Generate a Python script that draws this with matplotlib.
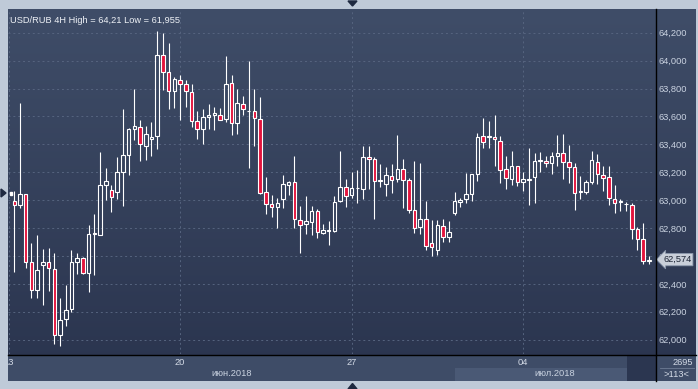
import numpy as np
import matplotlib.pyplot as plt
from matplotlib.patches import Rectangle, Polygon
from matplotlib.lines import Line2D
from matplotlib.colors import LinearSegmentedColormap

# USD/RUB 4H свечи (чтение с картинки)
opens = [62.996, 62.968, 63.042, 62.559, 62.354, 62.538, 62.559, 62.509, 62.036, 62.151,
         62.222, 62.559, 62.588, 62.480, 62.767, 62.753, 63.111, 63.075, 63.061, 63.204,
         63.326, 63.513, 63.525, 63.391, 63.441, 63.462, 64.043, 63.921, 63.785, 63.864,
         63.835, 63.778, 63.570, 63.513, 63.599, 63.613, 63.613, 63.582, 63.840, 63.551,
         63.692, 63.637, 63.637, 63.582, 63.059, 62.973, 62.951, 63.009, 63.109, 63.130,
         62.858, 62.829, 62.844, 62.923, 62.765, 62.779, 62.779, 62.994, 63.095, 63.035,
         63.085, 63.080, 63.310, 63.295, 63.138, 63.116, 63.173, 63.152, 63.224, 63.145,
         62.930, 62.808, 62.865, 62.693, 62.643, 62.815, 62.734, 62.906, 62.989, 63.006,
         63.044, 63.188, 63.460, 63.456, 63.453, 63.424, 63.224, 63.150, 63.245, 63.130,
         63.147, 63.164, 63.281, 63.281, 63.264, 63.317, 63.338, 63.274, 63.238, 63.059,
         63.059, 63.130, 63.274, 63.181, 63.166, 63.009, 62.987, 62.970, 62.966, 62.794,
         62.722, 62.566]
closes = [62.968, 63.047, 62.559, 62.354, 62.502, 62.559, 62.516, 62.036, 62.143, 62.215,
          62.559, 62.588, 62.480, 62.760, 62.755, 63.111, 63.140, 63.025, 63.204, 63.326,
          63.513, 63.534, 63.405, 63.474, 63.455, 64.043, 63.921, 63.785, 63.871, 63.835,
          63.785, 63.570, 63.513, 63.599, 63.613, 63.627, 63.577, 63.835, 63.553, 63.697,
          63.654, 63.640, 63.589, 63.052, 62.973, 62.951, 62.980, 63.116, 63.130, 62.865,
          62.822, 62.851, 62.923, 62.772, 62.786, 62.784, 62.987, 63.095, 63.030, 63.087,
          63.090, 63.310, 63.295, 63.138, 63.140, 63.181, 63.145, 63.224, 63.145, 62.930,
          62.801, 62.865, 62.669, 62.662, 62.822, 62.736, 62.772, 62.997, 63.004, 63.044,
          63.188, 63.453, 63.415, 63.460, 63.436, 63.214, 63.157, 63.245, 63.130, 63.150,
          63.149, 63.281, 63.283, 63.267, 63.317, 63.338, 63.274, 63.238, 63.052, 63.061,
          63.130, 63.288, 63.188, 63.159, 63.016, 62.980, 62.989, 62.972, 62.794, 62.722,
          62.564, 62.574]
highs = [63.063, 63.694, 63.045, 62.691, 62.748, 62.648, 62.655, 62.619, 62.296, 62.390,
         62.645, 62.621, 62.592, 62.820, 62.898, 63.343, 63.228, 63.109, 63.307, 63.651,
         63.515, 63.795, 63.572, 63.529, 63.558, 64.210, 64.196, 64.124, 63.883, 63.895,
         63.864, 63.830, 63.639, 63.656, 63.687, 63.666, 63.663, 64.031, 63.900, 63.800,
         63.749, 63.997, 63.800, 63.742, 63.169, 63.037, 63.018, 63.183, 63.140, 63.319,
         62.958, 63.030, 62.958, 62.939, 62.829, 62.851, 63.030, 63.355, 63.150, 63.205,
         63.219, 63.391, 63.391, 63.310, 63.260, 63.240, 63.262, 63.470, 63.293, 63.162,
         63.283, 63.269, 62.997, 62.860, 62.860, 62.863, 62.853, 63.061, 63.018, 63.197,
         63.190, 63.484, 63.589, 63.568, 63.611, 63.463, 63.319, 63.353, 63.248, 63.200,
         63.374, 63.338, 63.348, 63.319, 63.348, 63.470, 63.475, 63.398, 63.267, 63.173,
         63.145, 63.353, 63.331, 63.245, 63.245, 63.109, 63.006, 62.987, 62.980, 62.808,
         62.839, 62.600]
lows = [62.485, 62.944, 62.511, 62.299, 62.299, 62.246, 62.349, 61.971, 61.955, 62.098,
        62.198, 62.468, 62.468, 62.342, 62.461, 62.748, 62.999, 62.915, 63.006, 62.958,
        63.183, 63.429, 63.281, 63.286, 63.317, 63.367, 63.787, 63.654, 63.661, 63.575,
        63.668, 63.525, 63.438, 63.403, 63.513, 63.503, 63.572, 63.563, 63.465, 63.472,
        63.611, 63.228, 63.386, 63.044, 62.899, 62.877, 62.798, 62.942, 63.035, 62.798,
        62.619, 62.755, 62.748, 62.729, 62.758, 62.679, 62.774, 62.985, 62.949, 63.016,
        62.978, 63.009, 63.078, 62.863, 63.092, 63.030, 63.049, 63.128, 62.942, 62.906,
        62.765, 62.758, 62.643, 62.598, 62.610, 62.698, 62.698, 62.894, 62.949, 62.980,
        62.992, 63.140, 63.372, 63.372, 63.243, 63.121, 63.078, 63.111, 63.104, 63.064,
        62.963, 62.978, 63.205, 63.236, 63.185, 63.243, 63.150, 63.121, 62.927, 63.006,
        63.042, 63.114, 63.116, 63.064, 62.966, 62.906, 62.923, 62.923, 62.719, 62.641,
        62.540, 62.543]

date_ticks = [-1, 29, 59, 89]          # индексы свечей на 00:00
date_labels = ['13', '20', '27', '04']
month_starts = [-1.1, 77]
month_labels = ['июн.2018', 'июл.2018']
y_ticks = [62.0, 62.2, 62.4, 62.6, 62.8, 63.0, 63.2, 63.4, 63.6, 63.8, 64.0, 64.2]
last_price = 62.574
title = 'USD/RUB 4H High = 64,21 Low = 61,955'

W, H = 698, 389
plt.rcParams['font.family'] = ['Liberation Sans', 'DejaVu Sans']
fig = plt.figure(figsize=(W / 100, H / 100), dpi=100, facecolor='#bfcad8')


def fx(px):
    return px / W


def fy(py):
    return 1 - py / H


# фон панели с градиентом
bg = fig.add_axes([fx(8), fy(381), fx(696 - 8), (381 - 9) / H])
bg.axis('off')
cmap = LinearSegmentedColormap.from_list('bg', ['#3f4d68', '#2a344e'])
bg.imshow(np.linspace(0, 1, 256).reshape(-1, 1), aspect='auto', cmap=cmap,
          extent=(0, 1, 0, 1))
bg.set_xlim(0, 1)
bg.set_ylim(0, 1)

# основной график
ax = fig.add_axes([fx(8), fy(354), fx(655 - 8), (354 - 9) / H])
ax.patch.set_alpha(0)
for s in ax.spines.values():
    s.set_visible(False)

x = np.arange(len(opens))
o = np.array(opens)
c = np.array(closes)
hi = np.array(highs)
lo = np.array(lows)
top = np.maximum(o, c)
bot = np.minimum(o, c)
up = c >= o

ax.vlines(x, top, hi, color='white', lw=0.8, zorder=3)
ax.vlines(x, lo, bot, color='white', lw=0.8, zorder=3)
body = np.maximum(top - bot, 0.004)
ax.bar(x[up], body[up], bottom=bot[up], width=0.62, facecolor='none',
       edgecolor='white', linewidth=0.8, zorder=4)
ax.bar(x[~up], body[~up], bottom=bot[~up], width=0.62, facecolor='#e3143d',
       edgecolor='white', linewidth=0.8, zorder=4)

ax.set_xlim(-1.1, 112.07)
ax.set_ylim(61.8975, 64.37)
ax.set_xticks(date_ticks)
ax.set_yticks(y_ticks)
ax.set_yticklabels([f'{v:.3f}'.replace('.', ',') for v in y_ticks])
ax.yaxis.tick_right()
ax.tick_params(axis='y', length=0, pad=2.5, labelsize=6.7, labelcolor='#c9d2e0')
ax.tick_params(axis='x', length=0, labelbottom=False)
ax.grid(True, color='#56647f', lw=0.7, linestyle=(0, (2, 3)))
ax.set_axisbelow(True)

ax.text(0.003, 0.98, title, transform=ax.transAxes, ha='left', va='top',
        fontsize=6.7, color='#eef1f6')

# метка последней цены
ax.annotate(f'{last_price:.3f}'.replace('.', ','), xy=(1, last_price),
            xycoords=('axes fraction', 'data'), xytext=(8, 0),
            textcoords='offset pixels', ha='left', va='center', fontsize=6.7,
            color='#1c2434', annotation_clip=False, zorder=10,
            bbox=dict(boxstyle='larrow,pad=0.18', fc='#c9cfd9', ec='#8a97ab', lw=0.6))

# нижняя полоса с датами
dax = fig.add_axes([fx(8), fy(381), fx(655 - 8), (381 - 355) / H])
dax.set_facecolor('#3e4c67')
dax.set_xlim(ax.get_xlim())
dax.set_ylim(0, 1)
dax.set_xticks([])
dax.set_yticks([])
for s in dax.spines.values():
    s.set_visible(False)
dax.add_patch(Rectangle((month_starts[1], 0), 112.07 - month_starts[1], 0.5,
                        color='#4a5975', lw=0))
dax.add_patch(Rectangle((107.1, 0), 5.0, 1, color='#2b3650', lw=0))
for t, lab in zip(date_ticks, date_labels):
    dax.text(t, 0.7, lab, ha='center', va='center', fontsize=6.7,
             color='#d3dae6', clip_on=True)
ends = month_starts[1:] + [112.07]
for s0, s1, lab in zip(month_starts, ends, month_labels):
    dax.text((s0 + s1) / 2, 0.28, lab, ha='center', va='center', fontsize=6.7,
             color='#c9d2e0')

# правый нижний угол
rax = fig.add_axes([fx(656), fy(381), fx(696 - 656), (381 - 355) / H])
rax.set_facecolor('#3e4c67')
rax.set_xticks([])
rax.set_yticks([])
for s in rax.spines.values():
    s.set_visible(False)
rax.text(0.93, 0.72, '2695', ha='right', va='center', fontsize=6.7, color='#d3dae6')
rax.text(0.5, 0.26, '>113<', ha='center', va='center', fontsize=6.7, color='#d3dae6')
rax.add_line(Line2D([0.1, 0.95], [0.5, 0.5], color='#6d7b94', lw=0.6))

# разделители
fig.add_artist(Line2D([fx(655.5), fx(655.5)], [fy(9), fy(381)], color='black', lw=1))
fig.add_artist(Line2D([fx(8), fx(696)], [fy(354.5), fy(354.5)], color='black', lw=1))

# стрелки по краям
dark = '#1e2940'
fig.add_artist(Polygon([[fx(348), fy(1)], [fx(357), fy(1)], [fx(352.5), fy(6)]],
                       closed=True, color=dark))
fig.add_artist(Polygon([[fx(348), fy(389)], [fx(357), fy(389)], [fx(352.5), fy(383.5)]],
                       closed=True, color=dark))
fig.add_artist(Polygon([[fx(1), fy(189)], [fx(1), fy(197)], [fx(6), fy(193)]],
                       closed=True, color=dark))
fig.add_artist(Rectangle((fx(9.5), fy(194.5)), fx(2), 2 / H, color='white'))

fig.savefig('out.png', dpi=100, facecolor=fig.get_facecolor())
